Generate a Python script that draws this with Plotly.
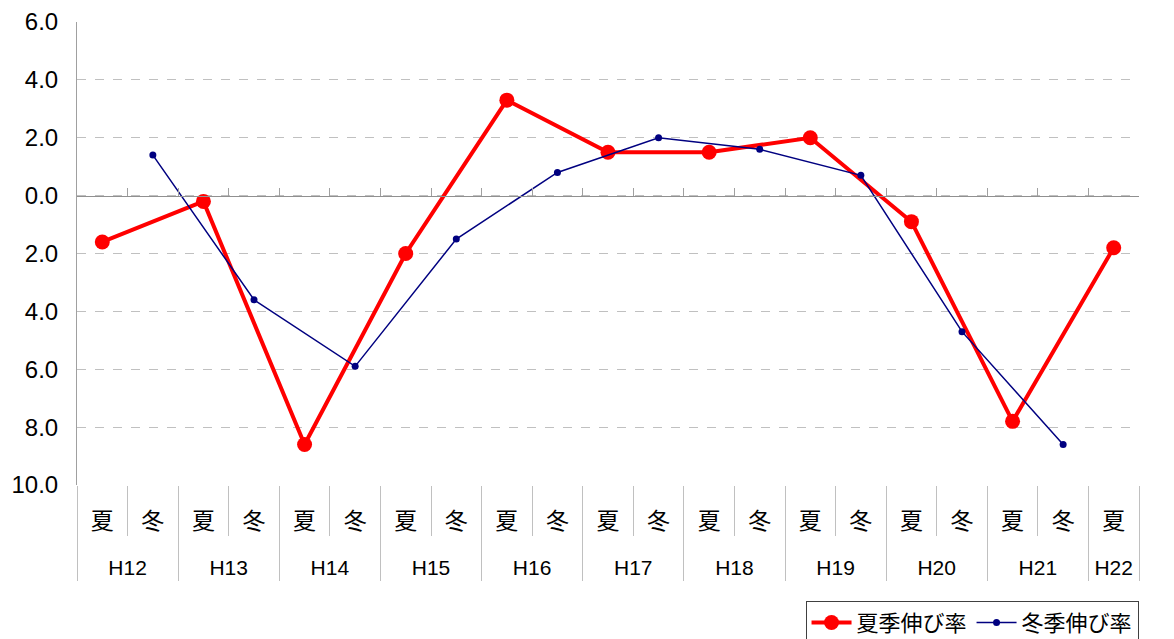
import plotly.graph_objects as go

years = ["H12", "H13", "H14", "H15", "H16", "H17", "H18", "H19", "H20", "H21", "H22"]
summer_growth = [-1.6, -0.2, -8.6, -2.0, 3.3, 1.5, 1.5, 2.0, -0.9, -7.8, -1.8]
winter_growth = [1.4, -3.6, -5.9, -1.5, 0.8, 2.0, 1.6, 0.7, -4.7, -8.6]
y_ticks = [6, 4, 2, 0, -2, -4, -6, -8, -10]
y_ticktext = ["6.0", "4.0", "2.0", "0.0", "2.0", "4.0", "6.0", "8.0", "10.0"]

FONT = "Liberation Sans, Arial, Noto Sans CJK JP, sans-serif"

# full category sequence (夏, 冬 per year; H22 only 夏)
x_year, x_season, y_sum, y_win = [], [], [], []
group_centers, group_bounds = [], [-0.5]
for i, yr in enumerate(years):
    start = len(x_year)
    x_year.append(yr); x_season.append("夏")
    y_sum.append(summer_growth[i]); y_win.append(None)
    if i < len(winter_growth):
        x_year.append(yr); x_season.append("冬")
        y_sum.append(None); y_win.append(winter_growth[i])
    end = len(x_year) - 1
    group_centers.append((start + end) / 2)
    group_bounds.append(end + 0.5)

n = len(x_year)
cat_idx = list(range(n))
cat_bounds = [i - 0.5 for i in range(n + 1)]
xr = [-0.5, n - 0.5]

fig = go.Figure()
fig.add_trace(go.Scatter(
    x=[x_year, x_season], y=y_sum, name="夏季伸び率",
    mode="lines+markers", connectgaps=True,
    line=dict(color="#ff0000", width=4),
    marker=dict(color="#ff0000", size=15),
))
fig.add_trace(go.Scatter(
    x=[x_year, x_season], y=y_win, name="冬季伸び率",
    mode="lines+markers", connectgaps=True,
    line=dict(color="#000080", width=1.5),
    marker=dict(color="#000080", size=7),
))
# helper (empty) traces so the decoration axes are drawn
for ax in ["x2", "x3", "x4"]:
    fig.add_trace(go.Scatter(x=xr, y=[None, None], xaxis=ax,
                             showlegend=False, hoverinfo="skip", mode="lines"))

fig.update_layout(
    width=1166, height=631,
    margin=dict(l=69, r=35, t=14, b=154, autoexpand=False),
    plot_bgcolor="white", paper_bgcolor="white",
    font=dict(family=FONT, size=20, color="black"),
    showlegend=True,
    legend=dict(orientation="h", x=0.686, xanchor="left", y=-0.25, yanchor="top",
                bordercolor="#404040", borderwidth=1,
                font=dict(family=FONT, size=22), itemwidth=40,
                tracegroupgap=0),
    xaxis=dict(
        type="multicategory", range=xr, automargin=False,
        showgrid=False, showline=False, zeroline=False,
        ticks="", showticklabels=False, showdividers=False,
    ),
    # zero line with upward ticks
    xaxis2=dict(
        overlaying="x", anchor="free", position=0.625, side="bottom",
        range=xr, showgrid=False, zeroline=False, automargin=False,
        showline=True, linecolor="#909090", linewidth=1,
        tickmode="array", tickvals=cat_bounds,
        ticks="inside", ticklen=8, tickcolor="#a0a0a0",
        showticklabels=False,
    ),
    # season labels with separators
    xaxis3=dict(
        overlaying="x", anchor="free", position=0, side="bottom",
        range=xr, showgrid=False, zeroline=False, showline=False, automargin=False,
        tickmode="array", tickvals=cat_idx, ticktext=x_season, ticks="",
        ticklabelstandoff=20,
        tickfont=dict(family=FONT, size=23, color="black"),
        minor=dict(tickmode="array", tickvals=cat_bounds, ticks="outside",
                   ticklen=50, tickcolor="#c0c0c0", tickwidth=1, showgrid=False),
    ),
    # year labels with group separators
    xaxis4=dict(
        overlaying="x", anchor="free", position=0, side="bottom",
        range=xr, showgrid=False, zeroline=False, showline=False, automargin=False,
        tickmode="array", tickvals=group_centers, ticktext=years, ticks="",
        ticklabelstandoff=68,
        tickfont=dict(family=FONT, size=21, color="black"),
        minor=dict(tickmode="array", tickvals=group_bounds, ticks="outside",
                   ticklen=95, tickcolor="#c0c0c0", tickwidth=1, showgrid=False),
    ),
    yaxis=dict(
        range=[-10, 6], tickmode="array", tickvals=y_ticks, ticktext=y_ticktext,
        showgrid=True, gridcolor="#c0c0c0", griddash="dash", gridwidth=1,
        zeroline=False, showline=True, linecolor="#a0a0a0", linewidth=1,
        ticks="", ticklabelstandoff=13, automargin=False,
        tickfont=dict(family=FONT, size=24, color="black"),
    ),
)

fig.write_html("out.html")
